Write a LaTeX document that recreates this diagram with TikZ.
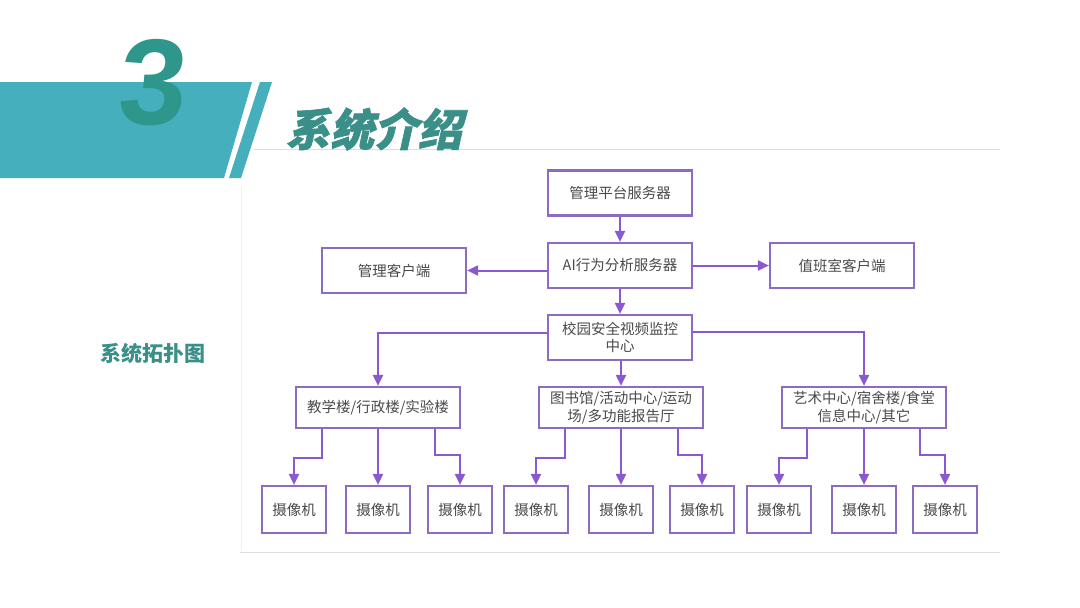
\documentclass[tikz,border=0pt]{standalone}
\usepackage{fontspec}
\usetikzlibrary{arrows.meta,calc}
\setmainfont{Noto Sans CJK SC}
\newfontfamily\cjk{Noto Sans CJK SC}
\newfontfamily\titlefont[FakeSlant=0.22,FakeBold=1.5]{Noto Sans CJK SC}
\newfontfamily\numfont[FakeSlant=0.08]{Liberation Sans}
\definecolor{band}{HTML}{45AFBE}
\definecolor{numteal}{HTML}{2F968C}
\definecolor{titleteal}{HTML}{3A8F88}
\definecolor{boxpurple}{HTML}{8C6BC0}
\definecolor{arrpurple}{HTML}{8A58D0}
\definecolor{txtgray}{HTML}{4A4A4A}
\definecolor{rulegray}{HTML}{DEDEDE}
\tikzset{
  box/.style={draw=boxpurple, line width=2.2pt, fill=white, inner sep=0pt,
    align=center, font=\cjk\fontsize{14.5}{17.5}\selectfont, text=txtgray},
  bigbox/.style={box, minimum width=144pt, minimum height=45pt},
  grpbox/.style={box, minimum width=164pt, minimum height=41pt},
  cambox/.style={box, minimum width=64pt, minimum height=47pt},
  arr/.style={draw=arrpurple, line width=2pt, -{Triangle[length=11pt,width=10pt]}},
}
\begin{document}
\begin{tikzpicture}[x=1pt,y=-1pt]
\useasboundingbox[fill=white] (0,0) rectangle (1080,608);
% header
\fill[band] (0,82) -- (252,82) -- (224,178) -- (0,178) -- cycle;
\fill[band] (260,82) -- (272,82) -- (241,178) -- (229,178) -- cycle;
\node[text=numteal, font=\numfont\bfseries\fontsize{122}{122}\selectfont, inner sep=0pt] (num) at (150,83) {3};
\draw[rulegray, line width=1pt] (254,149) -- (1000,149);
\node[text=titleteal, font=\titlefont\bfseries\fontsize{44}{44}\selectfont, inner sep=0pt] (title) at (374,129) {系统介绍};
\node[text=titleteal, font=\cjk\bfseries\fontsize{21}{21}\selectfont, inner sep=0pt] (topo) at (153,353) {系统拓扑图};
\draw[rulegray, line width=1pt] (240,552) -- (1000,552);
\draw[black!6, line width=1pt] (241,186) -- (241,551);
% diagram
\node[bigbox] (top) at (620,193) {管理平台服务器};
\node[bigbox] (ai) at (620,265.5) {AI行为分析服务器};
\node[bigbox] (mc) at (394,270.5) {管理客户端};
\node[bigbox] (zb) at (842,265.5) {值班室客户端};
\node[bigbox] (ctr) at (620,337.5) {校园安全视频监控\\中心};
\node[grpbox] (g1) at (378,407.5) {教学楼/行政楼/实验楼};
\node[grpbox] (g2) at (621,407.5) {图书馆/活动中心/运动\\场/多功能报告厅};
\node[grpbox] (g3) at (864,407.5) {艺术中心/宿舍楼/食堂\\信息中心/其它};
\foreach \n/\x in {c1/294,c2/378,c3/460,c4/536,c5/621,c6/702,c7/779,c8/864,c9/945}{
  \node[cambox] (\n) at (\x,509.5) {摄像机};
}
\draw[arr] (top) -- (ai);
\draw[arr] (ai) -- (ctr);
\draw[arr] (mc.east -| ai.west) -- (mc.east);
\draw[arr] (ai.east) -- (zb.west);
\draw[arr] ([yshift=4.5pt]ctr.west) -| (g1.north);
\draw[arr] (ctr.south -| g2.north) -- (g2.north);
\draw[arr] ([yshift=5.5pt]ctr.east) -| (g3.north);
% group 1
\draw[arr] ([xshift=-56pt]g1.south) -- ++(0,29) -| (c1.north);
\draw[arr] (g1.south) -- (c2.north);
\draw[arr] ([xshift=57pt]g1.south) -- ++(0,26) -| (c3.north);
% group 2
\draw[arr] ([xshift=-56pt]g2.south) -- ++(0,29) -| (c4.north);
\draw[arr] (g2.south) -- (c5.north);
\draw[arr] ([xshift=57pt]g2.south) -- ++(0,26) -| (c6.north);
% group 3
\draw[arr] ([xshift=-57pt]g3.south) -- ++(0,29) -| (c7.north);
\draw[arr] (g3.south) -- (c8.north);
\draw[arr] ([xshift=56pt]g3.south) -- ++(0,26) -| (c9.north);
\end{tikzpicture}
\end{document}
